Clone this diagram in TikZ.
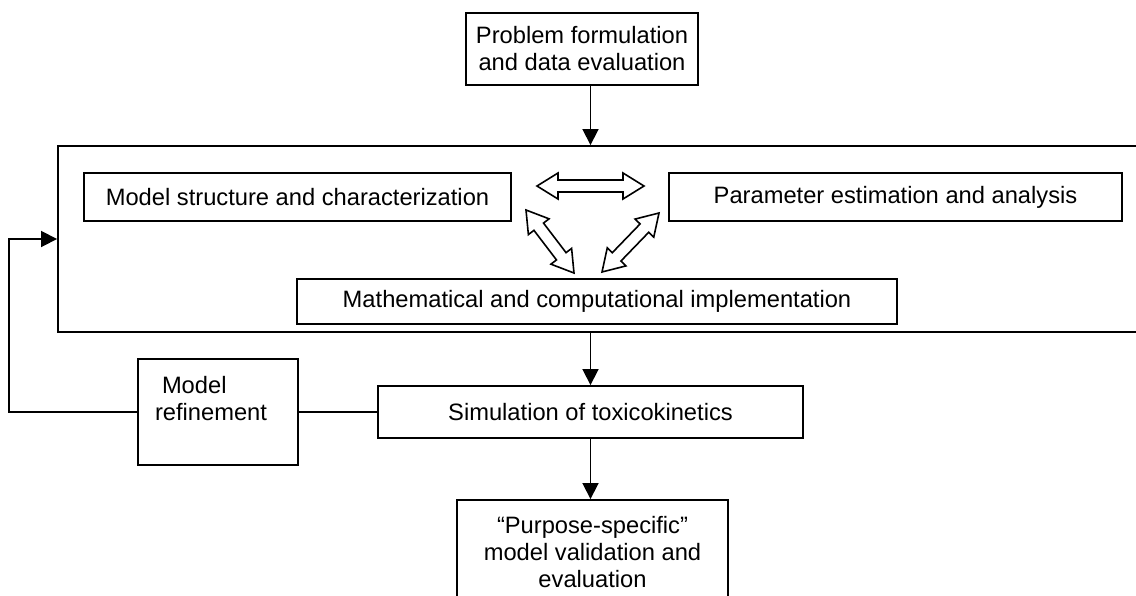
\documentclass[tikz,border=0pt]{standalone}
\usepackage{fontspec}
\setmainfont{Liberation Sans}
\usepackage{tikz}
\usetikzlibrary{arrows.meta, positioning, calc}

% hollow two-headed arrow between two coordinates
\newcommand{\hollowarrow}[2]{%
  \path [harrow] let \p1=($(#2)-(#1)$), \n1={atan2(\y1,\x1)}, \n2={veclen(\x1,\y1)} in
    (#1) -- ++({\n1+31.76}:24.7pt) -- ++({\n1-90}:7pt) -- ++(\n1:{\n2-42pt})
    -- ++({\n1+90}:7pt) -- ++({\n1-31.76}:24.7pt) -- ++({\n1+211.76}:24.7pt)
    -- ++({\n1+90}:7pt) -- ++({\n1+180}:{\n2-42pt}) -- ++({\n1-90}:7pt) -- cycle;}

\begin{document}
\begin{tikzpicture}[
    x=1pt, y=-1pt,
    node distance=100pt,
    font=\fontsize{23.7}{27}\selectfont,
    block/.style={
        rectangle,
        draw,
        line width=1.9pt,
        text centered,
        inner sep=0pt
    },
    line/.style={
        draw,
        -{Triangle[length=16pt,width=16pt]},
        line width=1.8pt
    },
    link/.style={
        draw,
        line width=1.8pt
    },
    harrow/.style={
        draw,
        fill=white,
        line width=1.6pt,
        line join=miter
    }
]
\useasboundingbox (0,0) rectangle (1136,595);

% Nodes
\node [block, align=center, minimum width=232pt, minimum height=72pt] (prob) at (582,49) {Problem formulation\\and data evaluation};
\node [block, below of=prob, node distance=190pt, xshift=22pt, minimum width=1092pt, minimum height=186pt] (frame) {};
\node [block, minimum width=427pt, minimum height=48pt] (struct) at (297.5,197) {Model structure and characterization};
\node [block, right of=struct, node distance=598pt, minimum width=453pt, minimum height=48pt] (param) {Parameter estimation and analysis};
\node [block, below of=frame, node distance=62.5pt, xshift=-7pt, minimum width=600pt, minimum height=45pt] (math) {Mathematical and computational implementation};
\node [block, below of=frame, node distance=173pt, xshift=-13.5pt, minimum width=425pt, minimum height=52pt] (sim) {Simulation of toxicokinetics};
\node [block, left of=sim, node distance=372.5pt, align=left, text width=126pt, inner xsep=17pt, minimum height=106pt] (refine) {\hspace*{7pt}Model\\refinement\\\mbox{}};
\node [block, below of=sim, node distance=140pt, xshift=2pt, align=center, minimum width=271pt, minimum height=104pt] (valid) {“Purpose-specific”\\model validation and\\evaluation};

% Tips of the two-way arrows
\coordinate (ha) at (537,186);
\coordinate (hb) at (644,186);
\coordinate (la) at (526,210);
\coordinate (lb) at (574,273);
\coordinate (ra) at (659,213);
\coordinate (rb) at (602,272);

% Paths
\path [line] (prob.south -| sim.north) -- (frame.north -| sim.north);
\hollowarrow{ha}{hb}
\hollowarrow{la}{lb}
\hollowarrow{ra}{rb}
\path [line] (frame.south -| sim.north) -- (sim.north);
\path [line] (sim.south) -- (sim.south |- valid.north);
\path [link] (refine) -- (sim);
% Feedback to the modelling frame
\path [line] (refine.west) -- ++(-128,0) |- (frame.west);

\end{tikzpicture}
\end{document}
